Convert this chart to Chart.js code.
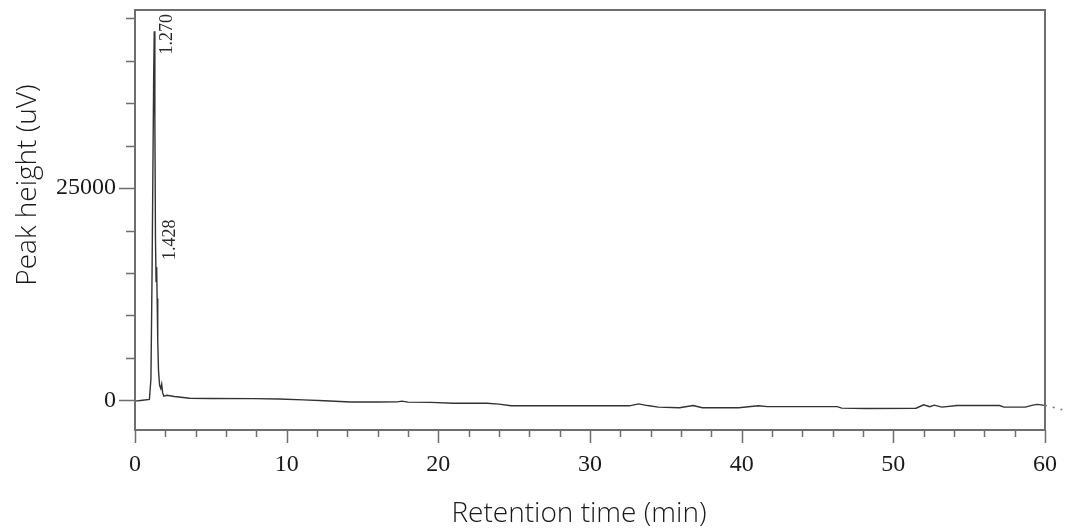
<!DOCTYPE html>
<html>
<head>
<meta charset="utf-8">
<title>Chromatogram</title>
<script src="https://cdn.jsdelivr.net/npm/chart.js@4.4.1/dist/chart.umd.min.js"></script>
<style>
  html, body { margin: 0; padding: 0; background: #fff; }
</style>
</head>
<body>
<canvas id="myChart" width="1070" height="532"></canvas>
<script>
// detector trace: retention time (min) -> peak height (uV)
var retentionTimes = [0, 0.5, 0.95, 1.05, 1.12, 1.18, 1.23, 1.27, 1.31, 1.35, 1.39, 1.428, 1.46, 1.5, 1.55, 1.62, 1.7, 1.76, 1.82, 1.9,
    2.1, 2.6, 3.6, 5, 7.8, 9.5, 11.1, 12.5, 14.2, 16, 17.3, 17.6, 18, 19.5, 21, 23.2, 24.0, 24.8, 27.3, 28.5,
    32.6, 33.2, 33.8, 34.5, 35.9, 36.8, 37.4, 39.8, 41.1, 41.7, 46.3, 46.6, 48.2, 51.5, 52.0, 52.4, 52.7, 53.2,
    54.2, 57.0, 57.3, 58.7, 59.2, 59.5, 60];
var peakHeights = [-100, 0, 100, 2500, 14000, 27000, 38000, 43500, 33000, 19000, 14000, 15700, 12000, 7000, 3500, 1800, 1400, 1900, 900, 500,
    600, 450, 250, 220, 200, 150, 50, -50, -200, -200, -180, -100, -220, -250, -350, -350, -450, -650, -650, -650,
    -650, -420, -620, -800, -880, -620, -880, -880, -650, -750, -750, -920, -960, -930, -530, -750, -570, -800,
    -620, -620, -800, -800, -570, -480, -600];

// signal recorded past the end of the run
var tailTimes = [60, 60.5, 61, 61.5];
var tailHeights = [-600, -800, -1050, -1300];

// integrated peaks (retention time labels)
var peakTimes = [1.27, 1.428];
var peakLabels = ['1.270', '1.428'];

// axis ticks
var runEnd = 60;
var xTickLabels = [0, 10, 20, 30, 40, 50, 60];
var xMinorTicks = [2, 4, 6, 8, 12, 14, 16, 18, 22, 24, 26, 28, 32, 34, 36, 38, 42, 44, 46, 48, 52, 54, 56, 58];
var yTickLabels = [0, 25000];
var yMinorTicks = [5000, 10000, 15000, 20000, 30000, 35000, 40000, 45000];

function toPoints(xs, ys) {
    return xs.map(function(x, i) { return { x: x, y: ys[i] }; });
}

var serif = "'Liberation Serif', 'Times New Roman', serif";
var sans = "'Open Sans', 'Noto Sans', sans-serif";

// frame, tick marks, peak labels and axis titles
var chromDecor = {
    id: 'chromDecor',
    afterDatasetsDraw: function(chart) {
        var ctx = chart.ctx, a = chart.chartArea;
        var xs = chart.scales.x, ys = chart.scales.y;
        var right = Math.round(xs.getPixelForValue(runEnd));
        ctx.save();

        ctx.strokeStyle = '#6e6e6e';
        ctx.lineWidth = 2;
        ctx.strokeRect(a.left, a.top, right - a.left, a.bottom - a.top);

        ctx.lineWidth = 1.5;
        ctx.beginPath();
        xTickLabels.forEach(function(v) {
            var px = Math.round(xs.getPixelForValue(v)) + 0.5;
            ctx.moveTo(px, a.bottom); ctx.lineTo(px, a.bottom + 13);
        });
        xMinorTicks.forEach(function(v) {
            var px = Math.round(xs.getPixelForValue(v)) + 0.5;
            ctx.moveTo(px, a.bottom); ctx.lineTo(px, a.bottom + 7);
        });
        yTickLabels.forEach(function(v) {
            var py = Math.round(ys.getPixelForValue(v)) + 0.5;
            ctx.moveTo(a.left, py); ctx.lineTo(a.left - 16, py);
        });
        yMinorTicks.forEach(function(v) {
            var py = Math.round(ys.getPixelForValue(v)) + 0.5;
            ctx.moveTo(a.left, py); ctx.lineTo(a.left - 9, py);
        });
        ctx.stroke();

        // rotated retention time above each peak, kept inside the frame
        ctx.fillStyle = '#2a2a2a';
        ctx.font = '18px ' + serif;
        ctx.textAlign = 'left';
        ctx.textBaseline = 'middle';
        peakTimes.forEach(function(t, i) {
            var idx = retentionTimes.indexOf(t);
            var px = xs.getPixelForValue(t) + 13.5;
            var py = ys.getPixelForValue(peakHeights[idx]);
            var w = ctx.measureText(peakLabels[i]).width;
            var start = Math.max(py - 7, a.top + w + 4);
            ctx.save();
            ctx.translate(px, start);
            ctx.rotate(-Math.PI / 2);
            ctx.fillText(peakLabels[i], 0, 0);
            ctx.restore();
        });

        // axis titles
        ctx.fillStyle = '#1a1a1a';
        ctx.font = '300 28px ' + sans;
        ctx.textAlign = 'center';
        ctx.textBaseline = 'middle';
        ctx.fillText('Retention time (min)', 579, 514);
        ctx.save();
        ctx.translate(28, 185);
        ctx.rotate(-Math.PI / 2);
        ctx.fillText('Peak height (uV)', 0, 0);
        ctx.restore();

        ctx.restore();
    }
};

function noEdgePadding(s) {
    s.paddingTop = 0;
    s.paddingBottom = 0;
    s.paddingLeft = 0;
    s.paddingRight = 0;
}

var ctx = document.getElementById('myChart').getContext('2d');
var myChart = new Chart(ctx, {
    type: 'line',
    data: {
        datasets: [{
            label: 'Signal',
            data: toPoints(retentionTimes, peakHeights),
            borderColor: '#333333',
            borderWidth: 1.4,
            pointRadius: 0,
            tension: 0
        }, {
            label: 'After run',
            data: toPoints(tailTimes, tailHeights),
            borderColor: '#7a7a7a',
            borderWidth: 1.6,
            borderDash: [2, 6],
            pointRadius: 0
        }]
    },
    options: {
        responsive: false,
        animation: false,
        layout: { padding: { top: 10, right: 0, bottom: 0, left: 0 } },
        plugins: {
            legend: { display: false },
            tooltip: { enabled: false }
        },
        scales: {
            x: {
                type: 'linear',
                min: 0,
                max: 61.65,
                grid: { display: false },
                border: { display: false },
                afterBuildTicks: function(s) { s.ticks = xTickLabels.map(function(v) { return { value: v }; }); },
                afterFit: function(s) { s.height = 102; noEdgePadding(s); },
                ticks: {
                    padding: 12,
                    maxRotation: 0,
                    autoSkip: false,
                    color: '#1a1a1a',
                    font: { family: serif, size: 24 },
                    callback: function(v) { return String(v); }
                }
            },
            y: {
                min: -3500,
                max: 46000,
                grid: { display: false },
                border: { display: false },
                afterBuildTicks: function(s) { s.ticks = yTickLabels.map(function(v) { return { value: v }; }); },
                afterFit: function(s) { s.width = 135; noEdgePadding(s); },
                ticks: {
                    padding: 11,
                    autoSkip: false,
                    color: '#1a1a1a',
                    font: { family: serif, size: 24 },
                    callback: function(v) { return String(v); }
                }
            }
        }
    },
    plugins: [chromDecor]
});
</script>
</body>
</html>
